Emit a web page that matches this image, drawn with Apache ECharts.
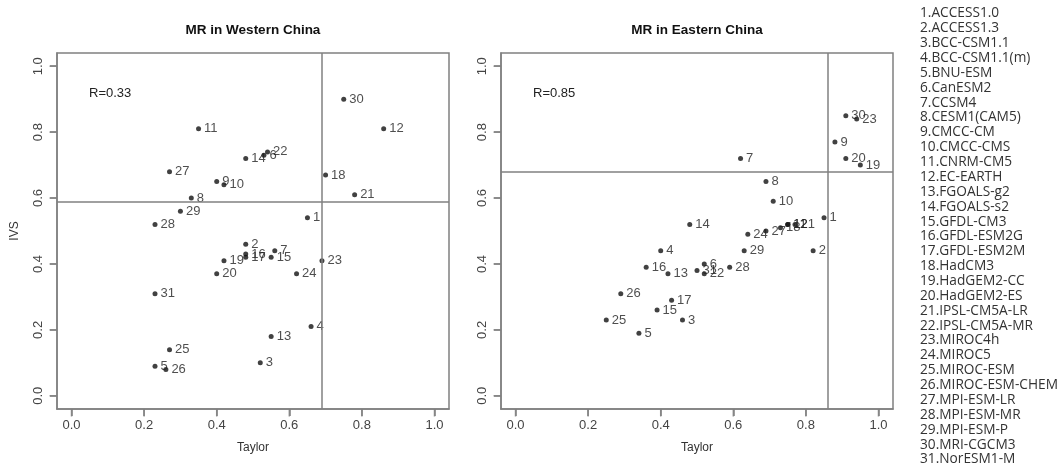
<!DOCTYPE html>
<html>
<head>
<meta charset="utf-8">
<script src="https://cdn.jsdelivr.net/npm/echarts@6/dist/echarts.min.js"></script>
<style>html,body{margin:0;padding:0;background:#fff}#c{width:1062px;height:465px}</style>
</head>
<body>
<div id="c"></div>
<script>
const modelIds = [1,2,3,4,5,6,7,8,9,10,11,12,13,14,15,16,17,18,19,20,21,22,23,24,25,26,27,28,29,30,31];
const modelNames = ["ACCESS1.0","ACCESS1.3","BCC-CSM1.1","BCC-CSM1.1(m)","BNU-ESM","CanESM2","CCSM4","CESM1(CAM5)","CMCC-CM","CMCC-CMS","CNRM-CM5","EC-EARTH","FGOALS-g2","FGOALS-s2","GFDL-CM3","GFDL-ESM2G","GFDL-ESM2M","HadCM3","HadGEM2-CC","HadGEM2-ES","IPSL-CM5A-LR","IPSL-CM5A-MR","MIROC4h","MIROC5","MIROC-ESM","MIROC-ESM-CHEM","MPI-ESM-LR","MPI-ESM-MR","MPI-ESM-P","MRI-CGCM3","NorESM1-M"];
// Western China: Taylor (x) and IVS (y)
const westTaylor = [0.65,0.48,0.52,0.66,0.23,0.53,0.56,0.33,0.40,0.42,0.35,0.86,0.55,0.48,0.55,0.48,0.48,0.70,0.42,0.40,0.78,0.54,0.69,0.62,0.27,0.26,0.27,0.23,0.30,0.75,0.23];
const westIVS    = [0.54,0.46,0.10,0.21,0.09,0.73,0.44,0.60,0.65,0.64,0.81,0.81,0.18,0.72,0.42,0.43,0.42,0.67,0.41,0.37,0.61,0.74,0.41,0.37,0.14,0.08,0.68,0.52,0.56,0.90,0.31];
// Eastern China
const eastTaylor = [0.85,0.82,0.46,0.40,0.34,0.52,0.62,0.69,0.88,0.71,0.75,0.75,0.42,0.48,0.39,0.36,0.43,0.73,0.95,0.91,0.77,0.52,0.94,0.64,0.25,0.29,0.69,0.59,0.63,0.91,0.50];
const eastIVS    = [0.54,0.44,0.23,0.44,0.19,0.40,0.72,0.65,0.77,0.59,0.52,0.52,0.37,0.52,0.26,0.39,0.29,0.51,0.70,0.72,0.52,0.37,0.84,0.49,0.23,0.31,0.50,0.39,0.44,0.85,0.38];
const westRefX = 0.69, westRefY = 0.59, westR = "R=0.33";
const eastRefX = 0.86, eastRefY = 0.68, eastR = "R=0.85";
const tickValues = [0, 0.2, 0.4, 0.6, 0.8, 1.0];
const axisMin = -0.04, axisMax = 1.04;

const chart = echarts.init(document.getElementById('c'), null, {renderer: 'canvas'});
const gray = '#808080';
const fontFam = '"Liberation Sans", Arial, sans-serif';

function xAxisCfg(gi) {
  return {
    gridIndex: gi, type: 'value', min: axisMin, max: axisMax,
    name: 'Taylor', nameLocation: 'middle', nameGap: 33,
    nameTextStyle: {fontFamily: fontFam, fontSize: 12, color: '#333'},
    axisLine: {show: true, onZero: false, lineStyle: {color: gray, width: 1.5}},
    splitLine: {show: false},
    axisTick: {show: true, customValues: tickValues, length: 7, lineStyle: {color: gray, width: 1.5}},
    axisLabel: {customValues: tickValues, formatter: v => v.toFixed(1), fontFamily: fontFam, fontSize: 13, color: '#444', margin: 10}
  };
}
function yAxisCfg(gi, withName) {
  return {
    gridIndex: gi, type: 'value', min: axisMin, max: axisMax,
    name: withName ? 'IVS' : '', nameLocation: 'middle', nameGap: 36,
    nameTextStyle: {fontFamily: fontFam, fontSize: 12, color: '#333'},
    axisLine: {show: true, onZero: false, lineStyle: {color: gray, width: 1.5}},
    splitLine: {show: false},
    axisTick: {show: true, customValues: tickValues, length: 7, lineStyle: {color: gray, width: 1.5}},
    axisLabel: {customValues: tickValues, formatter: v => v.toFixed(1), rotate: 90, fontFamily: fontFam, fontSize: 13, color: '#444', margin: 12}
  };
}
function seriesCfg(gi, xs, ys, rx, ry) {
  return {
    type: 'scatter', xAxisIndex: gi, yAxisIndex: gi, z: 3,
    data: modelIds.map((id, i) => [xs[i], ys[i], id]),
    symbolSize: 5,
    itemStyle: {color: '#111'},
    label: {show: true, position: 'right', distance: 3, formatter: p => String(p.value[2]), fontFamily: fontFam, fontSize: 13, color: '#222'},
    labelLayout: {hideOverlap: false},
    markLine: {
      silent: true, symbol: ['none', 'none'], animation: false,
      label: {show: false},
      lineStyle: {color: gray, width: 1.5, type: 'solid'},
      data: [{xAxis: rx}, {yAxis: ry}]
    },
    animation: false
  };
}
// tick marks drawn outside the box at the tick values (through the axis scales)
function tickSeries(gi) {
  return [
    {type: 'scatter', xAxisIndex: gi, yAxisIndex: gi, silent: true, clip: false, z: 1,
     data: tickValues.map(v => [v, axisMin]), symbol: 'rect', symbolSize: [1.5, 7], symbolOffset: [0, 4],
     itemStyle: {color: gray}, label: {show: false}, animation: false},
    {type: 'scatter', xAxisIndex: gi, yAxisIndex: gi, silent: true, clip: false, z: 1,
     data: tickValues.map(v => [axisMin, v]), symbol: 'rect', symbolSize: [7, 1.5], symbolOffset: [-4, 0],
     itemStyle: {color: gray}, label: {show: false}, animation: false}
  ];
}

const gridW = 392, gridH = 356, gridTop = 53;
const grids = [
  {left: 57, top: gridTop, width: gridW, height: gridH, show: true, borderColor: gray, borderWidth: 1.5, backgroundColor: 'transparent'},
  {left: 501, top: gridTop, width: gridW, height: gridH, show: true, borderColor: gray, borderWidth: 1.5, backgroundColor: 'transparent'}
];

chart.setOption({
  backgroundColor: '#fff',
  animation: false,
  grid: grids,
  xAxis: [xAxisCfg(0), xAxisCfg(1)],
  yAxis: [yAxisCfg(0, true), yAxisCfg(1, false)],
  series: [
    seriesCfg(0, westTaylor, westIVS, westRefX, westRefY),
    seriesCfg(1, eastTaylor, eastIVS, eastRefX, eastRefY),
    ...tickSeries(0),
    ...tickSeries(1)
  ],
  graphic: [
    {type: 'text', x: 253, y: 30, style: {text: 'MR in Western China', font: 'bold 13.5px ' + fontFam, fill: '#111', align: 'center', verticalAlign: 'middle'}},
    {type: 'text', x: 697, y: 30, style: {text: 'MR in Eastern China', font: 'bold 13.5px ' + fontFam, fill: '#111', align: 'center', verticalAlign: 'middle'}},
    {type: 'text', x: 89, y: 87, style: {text: westR, font: '13px ' + fontFam, fill: '#222'}},
    {type: 'text', x: 533, y: 87, style: {text: eastR, font: '13px ' + fontFam, fill: '#222'}},
    {type: 'text', x: 920, y: 6, style: {text: modelIds.map((id, i) => id + '.' + modelNames[i]).join('\n'), font: '13.7px "Open Sans", sans-serif', lineHeight: 14.87, fill: '#333'}}
  ]
});
</script>
</body>
</html>
